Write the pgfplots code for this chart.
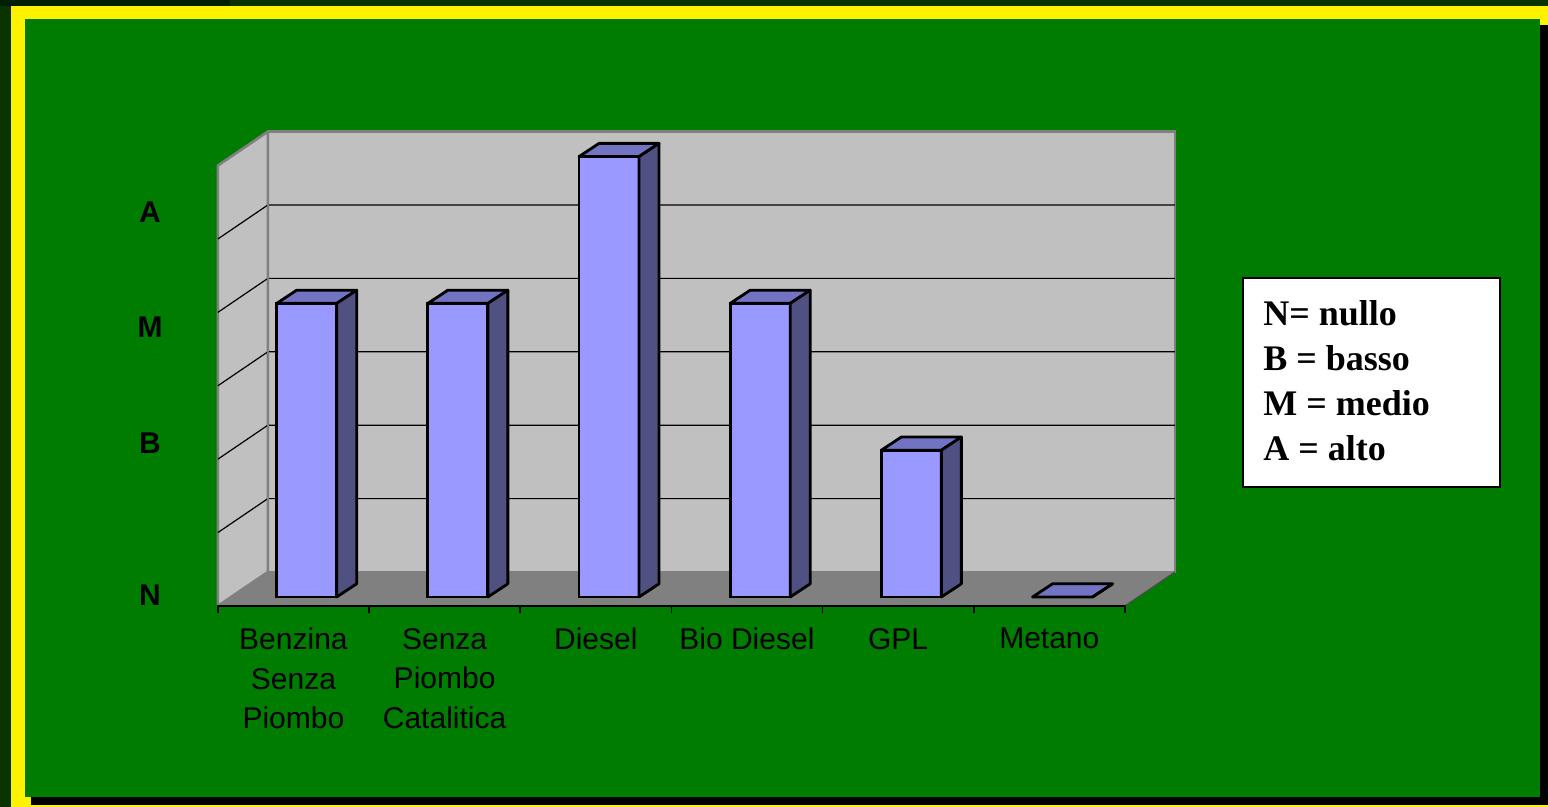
\documentclass[border=0pt]{standalone}
\usepackage{pgfplots}
\pgfplotsset{compat=1.18}
\usepackage{pgfplotstable}
\usepackage{fontspec}
\setmainfont{Liberation Sans}
\newfontfamily\serifb{Liberation Serif}

\definecolor{bggreen}{HTML}{007C00}
\definecolor{outerc}{HTML}{0B3300}
\definecolor{outerd}{HTML}{002000}
\definecolor{wall}{HTML}{C0C0C0}
\definecolor{floorc}{HTML}{808080}
\definecolor{edgec}{HTML}{808080}
\definecolor{barfront}{HTML}{9999FF}
\definecolor{bartop}{HTML}{7373C4}
\definecolor{barside}{HTML}{505082}

% idx = category (0 Benzina Senza Piombo ... 5 Metano), val: 0=N ... 6
\pgfplotstableread{
idx val
0 4
1 4
2 6
3 4
4 2
5 0
}\bardata

\begin{document}
\begin{tikzpicture}
\begin{scope}[x=0.5pt,y=-0.5pt]
\fill[outerc] (0,0) rectangle (1548,807);
\fill[outerd] (0,0) rectangle (230,6);
\fill[yellow] (11,6) rectangle (1548,807);
\fill[black] (31,25) rectangle (1548,805);
\fill[bggreen] (25,19) rectangle (1540,797);
\end{scope}
\begin{axis}[at={(0,0)}, anchor=north west, scale only axis,
  width=774pt, height=403.5pt,
  xmin=-2.0286, xmax=8.2115, ymin=-2.861, ymax=8.1335,
  hide axis, clip=false]
% back wall
\addplot[fill=wall, draw=edgec, line width=1.3pt] coordinates {(-0.2568,0.3406) (5.7432,0.3406) (5.7432,6.3406) (-0.2568,6.3406)} -- cycle;
% left wall
\addplot[fill=wall, draw=edgec, line width=1.3pt, line join=round] coordinates {(-0.5876,-0.1226) (-0.2568,0.3406) (-0.2568,6.3406) (-0.5876,5.8774)} -- cycle;
% floor
\addplot[fill=floorc, draw=none] coordinates {(-0.5876,-0.1226) (5.4124,-0.1226) (5.7432,0.3406) (-0.2568,0.3406)} -- cycle;
\addplot[black!70, line width=0.6pt] coordinates {(5.4124,-0.1226) (5.7432,0.3406)};
% gridlines
\addplot[black, line width=0.6pt] coordinates {(-0.5876,0.8774) (-0.2568,1.3406) (5.7432,1.3406)};
\addplot[black, line width=0.6pt] coordinates {(-0.5876,1.8774) (-0.2568,2.3406) (5.7432,2.3406)};
\addplot[black, line width=0.6pt] coordinates {(-0.5876,2.8774) (-0.2568,3.3406) (5.7432,3.3406)};
\addplot[black, line width=0.6pt] coordinates {(-0.5876,3.8774) (-0.2568,4.3406) (5.7432,4.3406)};
\addplot[black, line width=0.6pt] coordinates {(-0.5876,4.8774) (-0.2568,5.3406) (5.7432,5.3406)};
% corner edge
\addplot[edgec, line width=1.3pt] coordinates {(-0.2568,0.3406) (-0.2568,6.3406)};
% front edge with ticks
\addplot[black, line width=0.8pt] coordinates {
(-0.5876,-0.218) (-0.5876,-0.1226) (0.4124,-0.1226) (0.4124,-0.218) (0.4124,-0.1226)
(1.4124,-0.1226) (1.4124,-0.218) (1.4124,-0.1226) (2.4124,-0.1226) (2.4124,-0.218) (2.4124,-0.1226)
(3.4124,-0.1226) (3.4124,-0.218) (3.4124,-0.1226) (4.4124,-0.1226) (4.4124,-0.218) (4.4124,-0.1226)
(5.4124,-0.1226) (5.4124,-0.218)};
% bars: front faces
\addplot[ybar, bar width=0.397, fill=barfront, draw=black, line width=1.4pt] table[x=idx, y=val] {\bardata};
% bars: top and side faces
\addplot[scatter, only marks, mark=*, mark size=0pt,
  mark options={draw=none, fill=none},
  visualization depends on={\thisrow{val}*36.7 \as \barh},
  scatter/@pre marker code/.code={
    \filldraw[fill=bartop, draw=black, line width=1.4pt, line join=round]
      (0pt,0pt) -- (-30pt,0pt) -- (-20pt,6.6pt) -- (10pt,6.6pt) -- cycle;
    \filldraw[fill=barside, draw=black, line width=1.4pt, line join=round]
      (0pt,0pt) -- (10pt,6.6pt) -- ++(0pt,-\barh pt) -- (0pt,-\barh pt) -- cycle;
  },
  scatter/@post marker code/.code={}
] table[x expr=\thisrow{idx}+0.1985, y=val] {\bardata};
% y labels
\begin{scope}[every node/.style={inner sep=0pt, font=\bfseries\fontsize{15}{17}\selectfont}]
\node at (axis cs:-1.0364,5.245) {A};
\node at (axis cs:-1.0364,3.680) {M};
\node at (axis cs:-1.0364,2.100) {B};
\node at (axis cs:-1.0364,0.025) {N};
\end{scope}
% category labels
\begin{scope}[every node/.style={anchor=north, inner sep=0pt, align=center, font=\fontsize{15}{19.75}\selectfont}]
\node at (axis cs:-0.0876,-0.42) {Benzina\\Senza\\Piombo};
\node at (axis cs:0.9124,-0.42) {Senza\\Piombo\\Catalitica};
\node at (axis cs:1.9124,-0.42) {Diesel};
\node at (axis cs:2.9124,-0.42) {Bio Diesel};
\node at (axis cs:3.9124,-0.42) {GPL};
\node at (axis cs:4.9124,-0.42) {Metano};
\end{scope}
\end{axis}
\begin{scope}[x=0.5pt,y=-0.5pt]
\draw[black, line width=1.2pt, fill=white] (1243,278) rectangle (1500,487);
\node[anchor=north west, inner sep=0pt, align=left,
  font=\serifb\bfseries\fontsize{18}{22.5}\selectfont] at (1263,300) {N= nullo\\B = basso\\M = medio\\A = alto};
\end{scope}
\end{tikzpicture}
\end{document}
